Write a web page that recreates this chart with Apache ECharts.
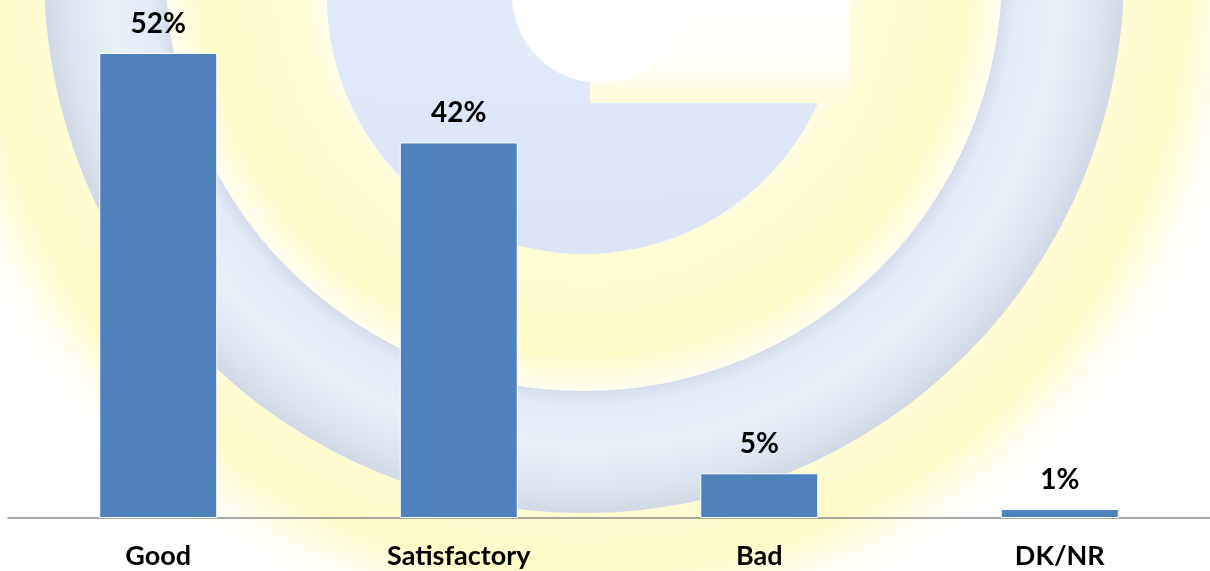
<!DOCTYPE html>
<html>
<head>
<meta charset="utf-8">
<script src="https://cdn.jsdelivr.net/npm/echarts@6/dist/echarts.min.js"></script>
<style>
html,body{margin:0;padding:0;background:#fff;}
#chart{width:1210px;height:571px;}
</style>
</head>
<body>
<div id="chart"></div>
<script>
const categories = ['Good', 'Satisfactory', 'Bad', 'DK/NR'];
const values = [52, 42, 5, 1];
const valueLabels = ['52%', '42%', '5%', '1%'];

const chart = echarts.init(document.getElementById('chart'), null, {renderer: 'canvas'});

const font = 'Lato, "Open Sans", "DejaVu Sans", sans-serif';

const option = {
  backgroundColor: '#ffffff',
  animation: false,
  graphic: [
    // soft yellow glow
    {
      type: 'circle', z: -20, silent: true,
      shape: {cx: 584, cy: -27, r: 680},
      style: {
        fill: {
          type: 'radial', x: 0.5, y: 0.5, r: 0.5,
          colorStops: [
            {offset: 0.0, color: 'rgba(255,250,190,0)'},
            {offset: 0.34, color: 'rgba(255,250,190,0.0)'},
            {offset: 0.42, color: 'rgba(255,249,180,0.55)'},
            {offset: 0.56, color: 'rgba(255,249,180,0.75)'},
            {offset: 0.62, color: 'rgba(255,252,220,0.4)'},
            {offset: 0.80, color: 'rgba(255,249,180,0.6)'},
            {offset: 0.88, color: 'rgba(255,249,175,0.7)'},
            {offset: 0.94, color: 'rgba(255,250,200,0.3)'},
            {offset: 1.0, color: 'rgba(255,255,255,0)'}
          ]
        }
      }
    },
    // outer blue ring
    {
      type: 'ring', z: -15, silent: true,
      shape: {cx: 584, cy: -27, r: 540, r0: 418},
      style: {
        fill: {
          type: 'radial', x: 0.5, y: 0.5, r: 0.5,
          colorStops: [
            {offset: 0.774, color: '#d0d9ea'},
            {offset: 0.80, color: '#dfe9f8'},
            {offset: 0.88, color: '#e6f0fc'},
            {offset: 0.96, color: '#d8e1f2'},
            {offset: 1.0, color: '#ccd5e7'}
          ]
        },
        opacity: 0.9
      }
    },
    // inner C disc
    {
      type: 'circle', z: -14, silent: true,
      shape: {cx: 584, cy: -3, r: 257},
      style: {
        fill: {
          type: 'linear', x: 0, y: 0, x2: 0, y2: 1,
          colorStops: [
            {offset: 0, color: '#e6f0fc'},
            {offset: 1, color: '#d9e3f6'}
          ]
        },
        opacity: 0.95
      }
    },
    // C opening
    {
      type: 'rect', z: -13, silent: true,
      shape: {x: 590, y: -10, width: 260, height: 113},
      style: {
        fill: {
          type: 'linear', x: 0, y: 0, x2: 0, y2: 1,
          colorStops: [
            {offset: 0, color: '#ffffff'},
            {offset: 0.7, color: '#fffef6'},
            {offset: 1, color: '#fffbd8'}
          ]
        }
      }
    },
    {
      type: 'circle', z: -13, silent: true,
      shape: {cx: 600, cy: -5, r: 88},
      style: {fill: '#ffffff'}
    }
  ],
  grid: {left: 8, width: 1208, top: 53, bottom: 53, containLabel: false},
  xAxis: {
    type: 'category',
    data: categories,
    axisLine: {show: true, lineStyle: {color: '#8a8a8a', width: 1.5}},
    axisTick: {show: false},
    axisLabel: {
      color: '#000', fontFamily: font, fontWeight: 'bold', fontSize: 27, margin: 25
    }
  },
  yAxis: {
    type: 'value', min: 0, max: 52,
    show: false, splitLine: {show: false}
  },
  series: [{
    type: 'bar',
    data: values,
    barWidth: 118,
    itemStyle: {color: '#4F81BD', borderColor: '#ffffff', borderWidth: 1},
    label: {
      show: true, position: 'top', distance: 15,
      color: '#000', fontFamily: font, fontWeight: 'bold', fontSize: 28,
      formatter: p => valueLabels[p.dataIndex]
    }
  }]
};
chart.setOption(option);
</script>
</body>
</html>
